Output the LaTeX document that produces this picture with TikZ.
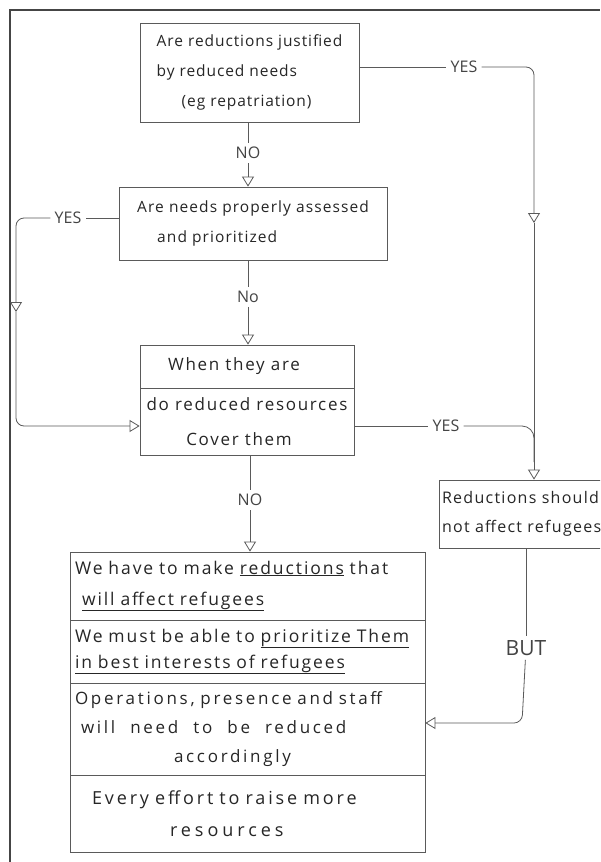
\documentclass[tikz,border=0pt]{standalone}
\usepackage{fontspec}
\setmainfont{Open Sans}
\newfontfamily\handA[LetterSpace=6]{Open Sans}
\newfontfamily\handB[LetterSpace=7]{Open Sans}
\newfontfamily\handC[LetterSpace=10]{Open Sans}
\newfontfamily\handD[LetterSpace=8]{Open Sans}
\newfontfamily\handE[LetterSpace=11]{Open Sans}
\newfontfamily\handF[LetterSpace=16]{Open Sans}
\usetikzlibrary{arrows.meta}
\definecolor{linec}{HTML}{5A5A5A}
\definecolor{inkc}{HTML}{262626}
\definecolor{labc}{HTML}{444444}
\definecolor{framec}{HTML}{454545}
\begin{document}
\begin{tikzpicture}[x=1pt,y=-1pt,
  box/.style={draw=linec, line width=0.8pt, inner sep=0pt, text=inkc},
  wbox/.style={box, inner sep=5pt, text width=345pt, align=left},
  lab/.style={text=labc, inner sep=4pt, font=\fontsize{16}{16}\selectfont},
  con/.style={draw=linec, line width=0.8pt},
  arr/.style={con, -{Triangle[open, length=10pt, width=12pt]}},
  framel/.style={draw=framec, line width=2pt},
]
\useasboundingbox (0,0) rectangle (600,862);
\fill[white] (0,0) rectangle (600,862);
\clip (0,0) rectangle (600,862);
\draw[framel] (10,862) -- (10,10) -- (600,10);

% boxes
\node[box, minimum width=219pt, minimum height=99pt, align=left,
  font=\handA\fontsize{15.5}{30}\selectfont] (b1) at (249.5,72.5)
  {Are reductions justified\\by reduced needs\\\hspace*{25pt}(eg repatriation)};
\node[box, minimum width=268pt, minimum height=73pt, align=left,
  font=\handB\fontsize{15.5}{30}\selectfont] (b2) at (253,223.5)
  {Are needs properly assessed\\\hspace*{20pt}and prioritized};
\node[box, minimum width=214pt, minimum height=43pt,
  font=\handC\fontsize{17}{30}\selectfont] (b3a) at (247,366.5) {When they are\hspace*{26pt}};
\node[box, minimum width=214pt, minimum height=67pt, align=center,
  font=\handC\fontsize{17}{35}\selectfont] (b3b) at (247,421.5)
  {do reduced resources\\Cover them\hspace*{16pt}};
\node[box, inner sep=3pt, text width=165pt, minimum height=68pt, align=left,
  font=\handD\fontsize{16}{29}\selectfont] (b4) at (524.5,514)
  {Reductions should\\not affect refugees};
\node[wbox, minimum height=68pt, font=\handE\fontsize{17.5}{31}\selectfont] (b5a) at (247.5,586)
  {We have to make \underline{reductions} that\\\hspace*{7pt}\underline{will affect refugees}};
\node[wbox, minimum height=63pt, font=\handE\fontsize{17.5}{26}\selectfont] (b5b) at (247.5,651.5)
  {We must be able to \underline{prioritize Them}\\\underline{in best interests of refugees}};
\node[wbox, minimum height=92pt, font=\handF\fontsize{17}{29}\selectfont] (b5c) at (247.5,729)
  {Operations, presence and staff\\{\spaceskip=15pt plus 2pt\hspace*{6pt}will need to be reduced}\\\hspace*{99pt}accordingly};
\node[wbox, minimum height=77pt, font=\handF\fontsize{18}{32}\selectfont] (b5d) at (247.5,813.5)
  {\hspace*{17pt}Every effort to raise more\\\hspace*{95pt}\addfontfeature{LetterSpace=22}resources};

% labels
\node[lab] (no1) at (248,153) {NO};
\node[lab] (no2) at (248,297) {No};
\node[lab] (no3) at (250,500) {NO};
\node[lab] (yes1) at (464,67) {YES};
\node[lab] (yes2) at (68,218) {YES};
\node[lab] (yes3) at (446,426) {YES};
\node[lab, font=\fontsize{21}{21}\selectfont] (but) at (526,648) {BUT};

% corner coordinates
\coordinate (r1) at (534,67);
\coordinate (rm) at (534,223);
\coordinate (l1) at (16,218);
\coordinate (lm) at (16,312);
\coordinate (l2) at (16,426);
\coordinate (bc) at (522,723);

% connectors
\draw[con] (b1.south -| no1) -- (no1);
\draw[arr] (no1) -- (no1 |- b2.north);
\draw[con] (b2.south -| no2) -- (no2);
\draw[arr] (no2) -- (no2 |- b3a.north);
\draw[con] (b3b.south -| no3) -- (no3);
\draw[arr] (no3) -- (no3 |- b5a.north);

\draw[con] (b1.east |- yes1) -- (yes1);
\draw[arr, rounded corners=8pt] (yes1) -- (r1) -- (rm);
\draw[arr] (rm) -- (rm |- b4.north);

\draw[con] (b3b.east |- yes3) -- (yes3);
\draw[con, rounded corners=12pt] (yes3) -- (yes3 -| rm) -- (534,462);

\draw[con] (b2.west |- yes2) -- (yes2);
\draw[arr, rounded corners=8pt] (yes2) -- (l1) -- (lm);
\draw[arr, rounded corners=8pt] (lm) -- (l2) -- (b3b.west |- l2);

\draw[con] (b4.south -| but) -- (but);
\draw[arr, rounded corners=8pt] (but) -- (bc) -- (b5c.east |- bc);
\end{tikzpicture}
\end{document}
